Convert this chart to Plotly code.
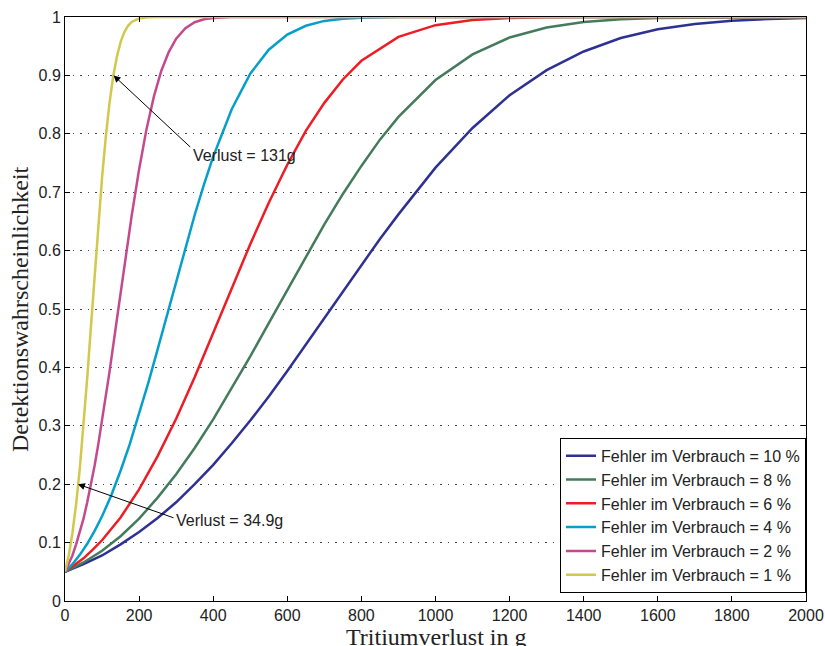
import plotly.graph_objects as go

# Values (x: Tritiumverlust in g, y: Detektionswahrscheinlichkeit)
x_10 = [0, 50, 100, 150, 200, 250, 300, 350, 400, 450, 500, 550, 600, 650, 700, 750, 800, 850, 900, 950,
        1000, 1100, 1200, 1300, 1400, 1500, 1600, 1700, 1800, 1900, 2000]
y_10 = [0.05, 0.063, 0.078, 0.097, 0.118, 0.142, 0.169, 0.200, 0.233, 0.270, 0.309, 0.350, 0.394, 0.439,
        0.484, 0.530, 0.575, 0.620, 0.662, 0.703, 0.742, 0.810, 0.866, 0.909, 0.941, 0.964, 0.979, 0.988,
        0.9935, 0.9967, 0.9984]

x_8 = [0, 50, 100, 150, 200, 250, 300, 350, 400, 450, 500, 550, 600, 650, 700, 750, 800, 850, 900,
       1000, 1100, 1200, 1300, 1400, 1500, 1600, 1800, 2000]
y_8 = [0.05, 0.066, 0.086, 0.111, 0.141, 0.177, 0.217, 0.262, 0.311, 0.364, 0.419, 0.476, 0.533, 0.590,
       0.645, 0.697, 0.745, 0.790, 0.829, 0.892, 0.936, 0.965, 0.982, 0.9916, 0.9963, 0.9985, 0.9998, 1.0]

x_6 = [0, 25, 50, 75, 100, 150, 200, 250, 300, 350, 400, 450, 500, 550, 600, 650, 700, 750, 800,
       900, 1000, 1100, 1200, 1300, 1400, 2000]
y_6 = [0.05, 0.061, 0.073, 0.088, 0.104, 0.143, 0.191, 0.248, 0.312, 0.383, 0.459, 0.535, 0.611, 0.682,
       0.747, 0.805, 0.853, 0.893, 0.925, 0.966, 0.986, 0.995, 0.9985, 0.9996, 1.0, 1.0]

x_4 = [0, 20, 40, 60, 80, 100, 125, 150, 175, 200, 225, 250, 275, 300, 325, 350, 375, 400, 450, 500,
       550, 600, 650, 700, 750, 800, 900, 2000]
y_4 = [0.05, 0.063, 0.079, 0.098, 0.120, 0.145, 0.181, 0.223, 0.269, 0.320, 0.374, 0.431, 0.489, 0.548,
       0.605, 0.661, 0.713, 0.761, 0.842, 0.903, 0.944, 0.970, 0.985, 0.9933, 0.9972, 0.9989, 0.9999, 1.0]

x_2 = [0, 10, 20, 30, 40, 50, 60, 70, 80, 90, 100, 120, 140, 160, 180, 200, 220, 240, 260, 280, 300,
       325, 350, 375, 400, 450, 2000]
y_2 = [0.05, 0.063, 0.078, 0.097, 0.117, 0.141, 0.169, 0.199, 0.232, 0.269, 0.308, 0.392, 0.482, 0.573,
       0.660, 0.739, 0.808, 0.864, 0.908, 0.940, 0.963, 0.981, 0.991, 0.996, 0.9983, 0.9998, 1.0]

x_1 = [0, 10, 20, 30, 40, 50, 60, 70, 80, 90, 100, 110, 120, 130, 140, 150, 160, 170, 180, 200, 225,
       250, 2000]
y_1 = [0.05, 0.078, 0.116, 0.166, 0.227, 0.300, 0.382, 0.470, 0.559, 0.646, 0.725, 0.794, 0.852, 0.898,
       0.932, 0.957, 0.974, 0.985, 0.9916, 0.9977, 0.9997, 1.0, 1.0]

series_names = ["Fehler im Verbrauch = 10 %", "Fehler im Verbrauch = 8 %", "Fehler im Verbrauch = 6 %",
                "Fehler im Verbrauch = 4 %", "Fehler im Verbrauch = 2 %", "Fehler im Verbrauch = 1 %"]
series_x = [x_10, x_8, x_6, x_4, x_2, x_1]
series_y = [y_10, y_8, y_6, y_4, y_2, y_1]
colors = ["#2E3192", "#437B5C", "#EE1C25", "#069FC9", "#C34A8E", "#D2C84C"]

x_ticks = [0, 200, 400, 600, 800, 1000, 1200, 1400, 1600, 1800, 2000]
y_ticks = [0, 0.1, 0.2, 0.3, 0.4, 0.5, 0.6, 0.7, 0.8, 0.9, 1]
y_ticktext = ["0", "0.1", "0.2", "0.3", "0.4", "0.5", "0.6", "0.7", "0.8", "0.9", "1"]

fig = go.Figure()
for name, xs, ys, col in zip(series_names, series_x, series_y, colors):
    fig.add_trace(go.Scatter(x=xs, y=ys, mode="lines", name=name,
                             line=dict(color=col, width=2.5)))

axis_common = dict(showline=True, linecolor="black", linewidth=1, mirror="ticks",
                   ticks="inside", ticklen=5, tickcolor="black", zeroline=False, automargin=False,
                   tickfont=dict(family="Liberation Sans, Arial", size=16, color="#222"))

fig.update_xaxes(range=[0, 2000], tickvals=x_ticks, showgrid=False, **axis_common)
fig.update_yaxes(range=[0, 1], tickvals=y_ticks, ticktext=y_ticktext, showgrid=True,
                 gridcolor="#444", griddash="1.5px,6px", gridwidth=1, **axis_common)

ann_font = dict(family="Liberation Sans, Arial", size=16, color="#222")
fig.add_annotation(x=131, y=0.9, ax=342, ay=0.775, axref="x", ayref="y", xref="x", yref="y",
                   text="", showarrow=True, arrowhead=2, arrowsize=1.4, arrowwidth=1, arrowcolor="black")
fig.add_annotation(x=340, y=0.762, xref="x", yref="y", text="Verlust = 131g", showarrow=False,
                   xanchor="left", yanchor="middle", font=ann_font)
fig.add_annotation(x=34.9, y=0.2, ax=297, ay=0.1416, axref="x", ayref="y", xref="x", yref="y",
                   text="", showarrow=True, arrowhead=2, arrowsize=1.4, arrowwidth=1, arrowcolor="black")
fig.add_annotation(x=295, y=0.1387, xref="x", yref="y", text="Verlust = 34.9g", showarrow=False,
                   xanchor="left", yanchor="middle", font=ann_font)

title_font = dict(family="Liberation Serif, Times New Roman", size=24, color="#222")
fig.add_annotation(x=0.5, y=0, xref="paper", yref="paper", yshift=-36, text="Tritiumverlust in g",
                   showarrow=False, xanchor="center", yanchor="middle", font=title_font)
fig.add_annotation(x=0, y=0.5, xref="paper", yref="paper", xshift=-45, text="Detektionswahrscheinlichkeit",
                   showarrow=False, textangle=-90, xanchor="center", yanchor="middle", font=title_font)

fig.update_layout(
    width=825, height=646,
    margin=dict(l=65, r=19, t=17, b=45),
    plot_bgcolor="white", paper_bgcolor="white",
    showlegend=True,
    legend=dict(x=1, y=0.014, xanchor="right", yanchor="bottom",
                bgcolor="white", bordercolor="black", borderwidth=1,
                font=dict(family="Liberation Sans, Arial", size=16, color="#222"),
                tracegroupgap=0),
)

# remove the page's default body margin so the 825x646 figure fills the window exactly
fig.write_html("out.html", config={"displayModeBar": False},
               post_script="document.body.style.margin='0';document.body.style.overflow='hidden';")
